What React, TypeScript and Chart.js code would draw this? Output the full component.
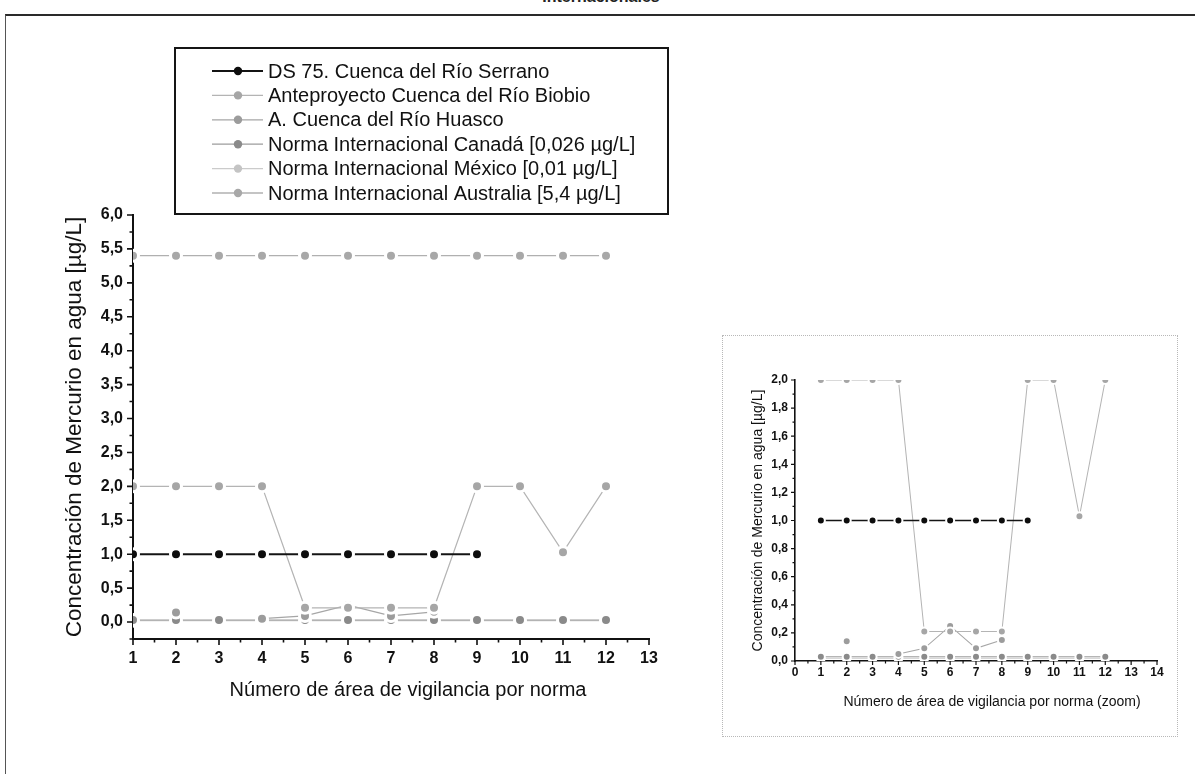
import React, { useEffect, useRef } from 'react';
import { Chart, registerables } from 'chart.js';

Chart.register(...registerables);

// ---------- data ----------
const areas = [1, 2, 3, 4, 5, 6, 7, 8, 9, 10, 11, 12];
const serrano = [1.0, 1.0, 1.0, 1.0, 1.0, 1.0, 1.0, 1.0, 1.0];
const biobio = [2.0, 2.0, 2.0, 2.0, 0.21, 0.21, 0.21, 0.21, 2.0, 2.0, 1.03, 2.0];
const huasco = [null, 0.14, null, 0.05, 0.09, 0.25, 0.09, 0.15];
const canada = [0.03, 0.03, 0.03, 0.03, 0.03, 0.03, 0.03, 0.03, 0.03, 0.03, 0.03, 0.03];
const mexico = [0.02, 0.02, 0.02, 0.02, 0.02, 0.02, 0.02, 0.02, 0.02, 0.02, 0.02, 0.02];
const australia = [5.4, 5.4, 5.4, 5.4, 5.4, 5.4, 5.4, 5.4, 5.4, 5.4, 5.4, 5.4];

const seriesLabels = [
  'DS 75. Cuenca del Río Serrano',
  'Anteproyecto Cuenca del Río Biobio',
  'A. Cuenca del Río Huasco',
  'Norma Internacional Canadá [0,026 µg/L]',
  'Norma Internacional México [0,01 µg/L]',
  'Norma Internacional Australia [5,4 µg/L]',
];

const mainXTicks = [1, 2, 3, 4, 5, 6, 7, 8, 9, 10, 11, 12, 13];
const mainYTicks = [0, 0.5, 1, 1.5, 2, 2.5, 3, 3.5, 4, 4.5, 5, 5.5, 6];
const insetXTicks = [0, 1, 2, 3, 4, 5, 6, 7, 8, 9, 10, 11, 12, 13, 14];
const insetYTicks = [0, 0.2, 0.4, 0.6, 0.8, 1.0, 1.2, 1.4, 1.6, 1.8, 2.0];

const mainTitleX = 'Número de área de vigilancia por norma';
const insetTitleX = 'Número de área de vigilancia por norma (zoom)';
const titleY = 'Concentración de Mercurio en agua [µg/L]';

// ---------- styles ----------
const FONT = '"Liberation Sans", Arial, Helvetica, sans-serif';
const seriesStyles = [
  { line: '#141414', point: '#0d0d0d', width: 2 },
  { line: '#b4b4b4', point: '#a6a6a6', width: 1.2 },
  { line: '#a6a6a6', point: '#9c9c9c', width: 1.2 },
  { line: '#9c9c9c', point: '#8a8a8a', width: 1.2 },
  { line: '#cbcbcb', point: '#c4c4c4', width: 1.2 },
  { line: '#b0b0b0', point: '#a8a8a8', width: 1.2 },
];
const seriesValues = [serrano, biobio, huasco, canada, mexico, australia];

const toPoints = (vals: (number | null)[]) => vals.map((v, i) => ({ x: areas[i], y: v }));
const fmt = (v: number) => v.toFixed(1).replace('.', ',');

function makeDatasets(which: number[], radius: number, ring: number, scaleW: number) {
  return which.map((i) => ({
    label: seriesLabels[i],
    data: toPoints(seriesValues[i]),
    borderColor: seriesStyles[i].line,
    borderWidth: seriesStyles[i].width * scaleW,
    pointBackgroundColor: seriesStyles[i].point,
    pointBorderColor: '#ffffff',
    pointBorderWidth: ring,
    pointRadius: radius,
    pointHoverRadius: radius,
    spanGaps: false,
    tension: 0,
    fill: false,
  }));
}

function tickPlugin(xMajors: number[], yMajors: number[], yExtraBottom: number | null, major: number, minor: number, w: number) {
  return {
    id: 'originTicks',
    afterDraw(chart: any) {
      const ctx = chart.ctx;
      const { bottom, left } = chart.chartArea;
      const xs = chart.scales.x;
      const ys = chart.scales.y;
      ctx.save();
      ctx.strokeStyle = '#111';
      ctx.lineWidth = w;
      ctx.beginPath();
      xMajors.forEach((v, i) => {
        const px = xs.getPixelForValue(v);
        ctx.moveTo(px, bottom);
        ctx.lineTo(px, bottom + major);
        if (i < xMajors.length - 1) {
          const pm = xs.getPixelForValue((v + xMajors[i + 1]) / 2);
          ctx.moveTo(pm, bottom);
          ctx.lineTo(pm, bottom + minor);
        }
      });
      yMajors.forEach((v, i) => {
        const py = ys.getPixelForValue(v);
        ctx.moveTo(left, py);
        ctx.lineTo(left - major, py);
        if (i < yMajors.length - 1) {
          const pm = ys.getPixelForValue((v + yMajors[i + 1]) / 2);
          ctx.moveTo(left, pm);
          ctx.lineTo(left - minor, pm);
        }
      });
      if (yExtraBottom !== null) {
        const py = ys.getPixelForValue(yExtraBottom);
        ctx.moveTo(left, py);
        ctx.lineTo(left - minor, py);
      }
      ctx.stroke();
      ctx.restore();
    },
  };
}

function xTitlePlugin(text: string, size: number, dx: number, y: number) {
  return {
    id: 'xTitle',
    afterDraw(chart: any) {
      const ctx = chart.ctx;
      const { left, right } = chart.chartArea;
      ctx.save();
      ctx.font = `${size}px ${FONT}`;
      ctx.fillStyle = '#111';
      ctx.textAlign = 'center';
      ctx.textBaseline = 'middle';
      ctx.fillText(text, (left + right) / 2 + dx, y);
      ctx.restore();
    },
  };
}

const legendPlugin = {
  id: 'boxLegend',
  afterDraw(chart: any) {
    const ctx = chart.ctx;
    ctx.save();
    ctx.strokeStyle = '#151515';
    ctx.lineWidth = 2;
    ctx.strokeRect(175, 48, 493, 166);
    ctx.font = `20px ${FONT}`;
    ctx.textBaseline = 'middle';
    ctx.textAlign = 'left';
    chart.data.datasets.forEach((ds: any, i: number) => {
      const y = 71 + i * 24.4;
      ctx.strokeStyle = ds.borderColor;
      ctx.lineWidth = i === 0 ? 2 : 1.3;
      ctx.beginPath();
      ctx.moveTo(212, y);
      ctx.lineTo(263, y);
      ctx.stroke();
      ctx.fillStyle = ds.pointBackgroundColor;
      ctx.beginPath();
      ctx.arc(238, y, 4.2, 0, Math.PI * 2);
      ctx.fill();
      ctx.fillStyle = '#111';
      ctx.fillText(ds.label, 268, y + 1);
    });
    ctx.restore();
  },
};

export default function App() {
  const mainRef = useRef<HTMLCanvasElement>(null);
  const insetRef = useRef<HTMLCanvasElement>(null);

  useEffect(() => {
    const main = new Chart(mainRef.current as HTMLCanvasElement, {
      type: 'line',
      data: { datasets: makeDatasets([0, 1, 2, 3, 4, 5], 5.5, 3, 1) as any },
      options: {
        animation: false,
        responsive: false,
        devicePixelRatio: 1,
        layout: { padding: { left: 57, top: 215, right: 553, bottom: 68 } },
        plugins: { legend: { display: false }, tooltip: { enabled: false }, title: { display: false } },
        scales: {
          x: {
            type: 'linear',
            min: 1,
            max: 13,
            z: 1,
            afterBuildTicks: (s: any) => { s.ticks = mainXTicks.map((v) => ({ value: v })); },
            afterFit: (s: any) => { s.height = 67; },
            grid: { display: false, drawTicks: false },
            border: { display: true, color: '#111', width: 2 },
            ticks: { color: '#111', font: { family: FONT, size: 16, weight: 'bold' }, padding: 10, autoSkip: false, maxRotation: 0, callback: (v: any) => String(v) },
            title: { display: false },
          },
          y: {
            type: 'linear',
            min: -0.25,
            max: 6,
            z: 1,
            afterBuildTicks: (s: any) => { s.ticks = mainYTicks.map((v) => ({ value: v })); },
            afterFit: (s: any) => { s.width = 76; },
            grid: { display: false, drawTicks: false },
            border: { display: true, color: '#111', width: 2 },
            ticks: { color: '#111', font: { family: FONT, size: 16, weight: 'bold' }, padding: 10, autoSkip: false, callback: (v: any) => fmt(Number(v)) },
            title: { display: true, text: titleY, color: '#111', font: { family: FONT, size: 22.5 } },
          },
        },
      } as any,
      plugins: [tickPlugin(mainXTicks, mainYTicks, -0.25, 6, 3.5, 1.6), xTitlePlugin(mainTitleX, 20, 17, 690), legendPlugin] as any,
    });

    const inset = new Chart(insetRef.current as HTMLCanvasElement, {
      type: 'line',
      data: { datasets: makeDatasets([0, 1, 2, 3, 4], 4, 2, 0.85) as any },
      options: {
        animation: false,
        responsive: false,
        devicePixelRatio: 1,
        layout: { padding: { left: 24, top: 45, right: 21, bottom: 23 } },
        plugins: { legend: { display: false }, tooltip: { enabled: false }, title: { display: false } },
        scales: {
          x: {
            type: 'linear',
            min: 0,
            max: 14,
            z: 1,
            afterBuildTicks: (s: any) => { s.ticks = insetXTicks.map((v) => ({ value: v })); },
            afterFit: (s: any) => { s.height = 53; },
            grid: { display: false, drawTicks: false },
            border: { display: true, color: '#111', width: 1.6 },
            ticks: { color: '#111', font: { family: FONT, size: 12, weight: 'bold' }, padding: 4, autoSkip: false, maxRotation: 0, callback: (v: any) => String(v) },
            title: { display: false },
          },
          y: {
            type: 'linear',
            min: 0,
            max: 2,
            z: 1,
            afterBuildTicks: (s: any) => { s.ticks = insetYTicks.map((v) => ({ value: v })); },
            afterFit: (s: any) => { s.width = 49; },
            grid: { display: false, drawTicks: false },
            border: { display: true, color: '#111', width: 1.6 },
            ticks: { color: '#111', font: { family: FONT, size: 12, weight: 'bold' }, padding: 7, autoSkip: false, callback: (v: any) => fmt(Number(v)) },
            title: { display: true, text: titleY, color: '#111', font: { family: FONT, size: 14 } },
          },
        },
      } as any,
      plugins: [tickPlugin(insetXTicks, insetYTicks, null, 4, 2.5, 1.2), xTitlePlugin(insetTitleX, 14, 16, 367)] as any,
    });

    return () => {
      main.destroy();
      inset.destroy();
    };
  }, []);

  return (
    <div style={{ position: 'fixed', left: 0, top: 0, width: 1202, height: 774, background: '#fff', overflow: 'hidden' }}>
      <div
        style={{
          position: 'absolute', left: 0, width: 1202, top: -12, textAlign: 'center',
          fontFamily: FONT, fontSize: 16, fontWeight: 'bold', color: '#222',
        }}
      >
        Internacionales
      </div>
      <div
        style={{
          position: 'absolute', left: 5, top: 14, width: 1190, height: 800, boxSizing: 'border-box',
          borderTop: '2px solid #2a2a2a', borderLeft: '1.5px solid #555',
        }}
      />
      <canvas ref={mainRef} width={1202} height={774} style={{ position: 'absolute', left: 0, top: 0, width: 1202, height: 774 }} />
      <div
        style={{
          position: 'absolute', left: 722, top: 335, width: 456, height: 402, boxSizing: 'border-box',
          border: '1px dotted #b8b8b8',
        }}
      />
      <canvas ref={insetRef} width={456} height={402} style={{ position: 'absolute', left: 722, top: 335, width: 456, height: 402 }} />
    </div>
  );
}
